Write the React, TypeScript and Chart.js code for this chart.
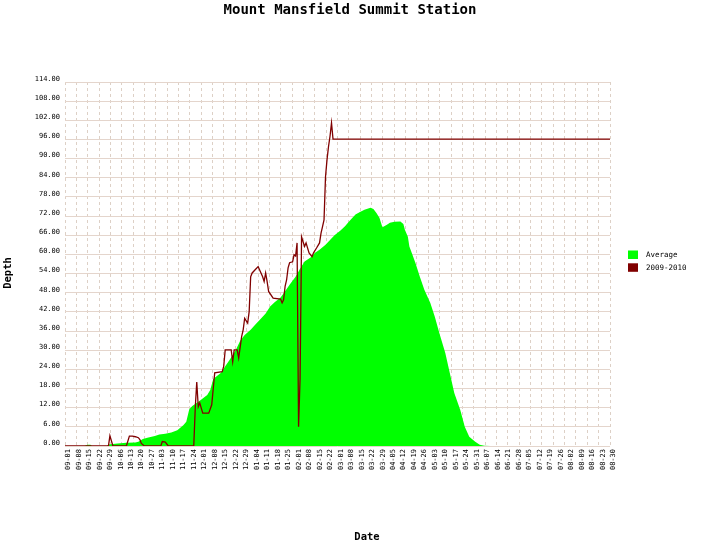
import React, { useEffect, useRef } from "react";
import { Chart, registerables } from "chart.js";

Chart.register(...registerables);

// ---- text ----
const TITLE = "Mount Mansfield Summit Station";
const Y_TITLE = "Depth";
const X_TITLE = "Date";
const SERIES_NAMES = ["Average", "2009-2010"];
const SERIES_COLORS = ["#00ff00", "#800000"];

// ---- axes ----
const xTickLabels = [
  "09-01", "09-08", "09-15", "09-22", "09-29", "10-06", "10-13", "10-20", "10-27",
  "11-03", "11-10", "11-17", "11-24", "12-01", "12-08", "12-15", "12-22", "12-29",
  "01-04", "01-11", "01-18", "01-25", "02-01", "02-08", "02-15", "02-22", "03-01",
  "03-08", "03-15", "03-22", "03-29", "04-05", "04-12", "04-19", "04-26", "05-03",
  "05-10", "05-17", "05-24", "05-31", "06-07", "06-14", "06-21", "06-28", "07-05",
  "07-12", "07-19", "07-26", "08-02", "08-09", "08-16", "08-23", "08-30",
];
const Y_MIN = 0;
const Y_MAX = 114;
const Y_STEP = 6;
const DAY_MAX = 364;
const V_GRID_DIVISIONS = 48;

// ---- data (day of season from 09-01, snow depth) ----
const avgDays = [
  0, 13, 15, 17, 18, 28, 29, 35, 41, 47, 49, 52, 55, 60, 63, 67, 71, 75, 79, 81,
  83, 85, 90, 95, 97, 99, 104, 107, 110, 114, 117, 120, 124, 127, 130, 134, 137, 140, 144, 147,
  150, 154, 157, 160, 164, 167, 170, 174, 177, 180, 184, 187, 190, 194, 197, 200, 204, 206, 208, 210,
  212, 215, 217, 220, 224, 226, 227, 229, 230, 232, 234, 237, 240, 244, 247, 250, 254, 257, 260, 264,
  267, 270, 274, 277, 280, 284, 364,
];
const avgDepth = [
  0, 0, 0.4, 0.4, 0, 0, 0.5, 0.8, 1.0, 1.1, 1.3, 2.2, 2.6, 3.1, 3.6, 3.8, 4.2, 4.9, 6.5, 7.6,
  11.5, 12.5, 14.2, 16, 17.5, 21, 22.9, 25, 27, 30, 33, 34.8, 36.4, 38, 39.5, 41.5, 43.7, 45, 46.5, 48.5,
  50.5, 53, 55.5, 57.8, 59, 60.5, 61.5, 63, 64.5, 66, 67.5, 68.8, 70.5, 72.5, 73.3, 74, 74.6, 74.2, 73, 71.5,
  68.5, 69.3, 69.9, 70.2, 70.3, 69.5, 67.7, 65.5, 62.5, 60, 57.4, 53, 48.9, 44.8, 40.5, 35.4, 29.1, 22.9, 16.6, 11.3,
  6, 2.9, 1.3, 0.4, 0.1, 0, 0,
];

const obsDays = [
  0, 29, 30, 32, 41, 43, 45, 47, 49, 50, 51, 53, 64, 65, 67, 69, 86, 87, 88, 89,
  90, 92, 96, 98, 100, 105, 106, 107, 111, 112, 113, 115, 116, 118, 119, 120, 122, 123, 124, 125,
  127, 129, 132, 133, 134, 135, 136, 139, 144, 145, 146, 147, 148, 149, 150, 152, 153, 154, 155, 156,
  157, 158, 159, 160, 161, 163, 165, 166, 168, 170, 171, 172, 173, 174, 175, 176, 177, 178, 179, 364,
];
const obsDepth = [
  0, 0, 3.2, 0, 0, 3.1, 3.1, 2.9, 2.6, 2.0, 0.8, 0, 0, 1.4, 1.2, 0, 0, 12, 20, 12.3,
  13.5, 10.3, 10.3, 12.9, 22.9, 23.3, 24.9, 30.1, 30.1, 26.4, 30.1, 30.1, 27.6, 34.3, 36.4, 40, 38.5, 42.1, 53, 54.2,
  55.2, 56.2, 53, 51.5, 54.2, 51.5, 48.4, 46.3, 46, 44.8, 45.8, 50, 52, 55.8, 57.4, 57.7, 59.9, 59.5, 63.6, 6,
  21, 65.5, 64, 62.5, 63.6, 60.5, 59.3, 60.5, 62, 63.6, 66.7, 68.7, 70.8, 84.4, 89.7, 93.8, 97, 101.2, 96.1, 96.1,
];

const MONO = '"DejaVu Sans Mono", "Liberation Mono", monospace';
const GRID_H = "#e4d5cc";
const GRID_V = "#ddd0c6";

const decorPlugin = {
  id: "decor",
  afterDraw(chart: any) {
    const ctx = chart.ctx as CanvasRenderingContext2D;
    ctx.save();
    ctx.fillStyle = "#000";
    ctx.textAlign = "center";
    ctx.textBaseline = "middle";
    ctx.font = `bold 14px ${MONO}`;
    ctx.fillText(TITLE, 350, 10);

    ctx.font = `bold 10.5px ${MONO}`;
    ctx.fillText(X_TITLE, 367, 537);
    ctx.save();
    ctx.translate(8, 273);
    ctx.rotate(-Math.PI / 2);
    ctx.fillText(Y_TITLE, 0, 0);
    ctx.restore();

    // legend
    ctx.textAlign = "left";
    ctx.font = `7.5px ${MONO}`;
    chart.data.datasets.forEach((ds: any, i: number) => {
      const top = 250.5 + i * 12.8;
      ctx.fillStyle = SERIES_COLORS[i];
      ctx.fillRect(628, top, 10, 8.5);
      ctx.fillStyle = "#000";
      ctx.fillText(ds.label, 646, top + 4.4);
    });
    ctx.restore();
  },
};

export default function App() {
  const ref = useRef<HTMLCanvasElement | null>(null);

  useEffect(() => {
    if (!ref.current) return;
    const tickFont = { family: MONO, size: 7 };
    const chart = new Chart(ref.current, {
      type: "line",
      data: {
        datasets: [
          {
            label: SERIES_NAMES[0],
            data: avgDays.map((d, i) => ({ x: d, y: avgDepth[i] })),
            backgroundColor: SERIES_COLORS[0],
            borderColor: SERIES_COLORS[0],
            borderWidth: 0,
            fill: "origin",
            pointRadius: 0,
            tension: 0,
            order: 1,
          },
          {
            label: SERIES_NAMES[1],
            data: obsDays.map((d, i) => ({ x: d, y: obsDepth[i] })),
            borderColor: SERIES_COLORS[1],
            backgroundColor: SERIES_COLORS[1],
            borderWidth: 1.3,
            fill: false,
            pointRadius: 0,
            tension: 0,
            order: 0,
          },
        ],
      },
      options: {
        animation: false,
        responsive: false,
        events: [],
        layout: { padding: { top: 82, right: 118, bottom: 0, left: 0 } },
        plugins: {
          legend: { display: false },
          title: { display: false },
          tooltip: { enabled: false },
        },
        scales: {
          x: {
            type: "linear",
            position: "bottom",
            min: 0,
            max: DAY_MAX,
            grid: { display: false, drawTicks: false },
            border: { display: false },
            afterBuildTicks: (s: any) => {
              s.ticks = xTickLabels.map((_, i) => ({ value: i * 7 }));
            },
            afterFit: (s: any) => {
              s.height = 100;
            },
            ticks: {
              autoSkip: false,
              minRotation: 90,
              maxRotation: 90,
              padding: 3,
              labelOffset: 3.3,
              color: "#000",
              font: tickFont,
              callback: (_v: any, i: number) => xTickLabels[i],
            },
          },
          xg: {
            type: "linear",
            position: "bottom",
            min: 0,
            max: V_GRID_DIVISIONS,
            ticks: { display: false, stepSize: 1 },
            grid: { color: GRID_V, drawTicks: false, lineWidth: 1 },
            border: { display: false, dash: [3, 3] },
            afterFit: (s: any) => {
              s.height = 0;
            },
          },
          y: {
            type: "linear",
            min: Y_MIN,
            max: Y_MAX,
            grid: { color: GRID_H, drawTicks: false, lineWidth: 1 },
            border: { display: false },
            afterFit: (s: any) => {
              s.width = 65;
            },
            ticks: {
              stepSize: Y_STEP,
              padding: 5,
              labelOffset: -3,
              color: "#000",
              font: tickFont,
              callback: (v: any) => Number(v).toFixed(2),
            },
          },
        },
      } as any,
      plugins: [decorPlugin],
    });
    return () => chart.destroy();
  }, []);

  return (
    <div style={{ position: "absolute", left: 0, top: 0, width: 728, height: 546, background: "#fff" }}>
      <canvas ref={ref} width={728} height={546} style={{ display: "block" }} />
    </div>
  );
}
